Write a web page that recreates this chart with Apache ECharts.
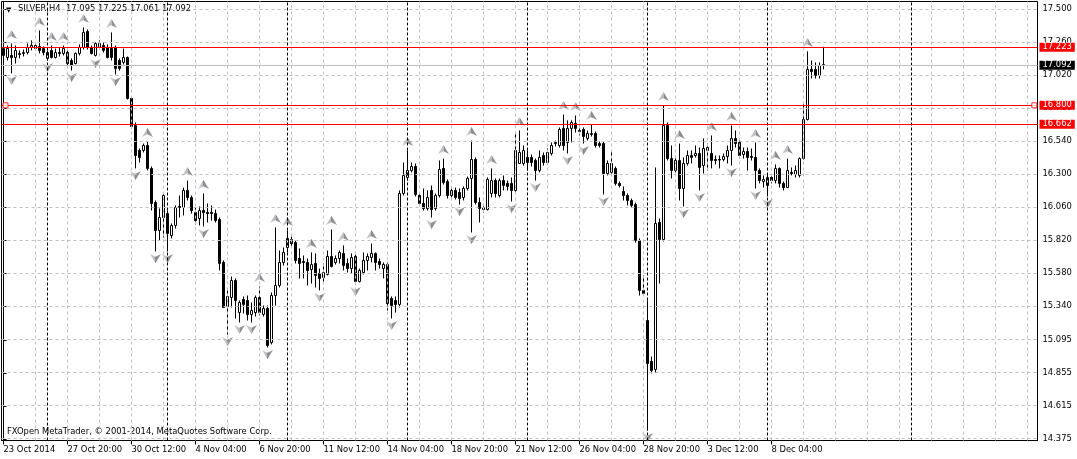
<!DOCTYPE html>
<html><head><meta charset="utf-8">
<script src="https://cdn.jsdelivr.net/npm/echarts@6/dist/echarts.min.js"></script>
<style>html,body{margin:0;padding:0;background:#fff}#c{width:1077px;height:459px}</style>
</head><body><div id="c"></div>
<script>
// ---------------- data ----------------
const symbolName = 'SILVER,H4';
const lastQuote = [17.095, 17.225, 17.061, 17.092]; // O H L C of last bar
const firstBarUTC = [2014, 9, 23, 4];               // 23 Oct 2014 04:00
const futureBars = 53;                              // empty bars to the right (chart shift)
// candles: [open, close, low, high]
const candles = [
[17.213,17.163,17.133,17.221],[17.148,17.213,17.126,17.235],[17.163,17.148,17.032,17.250],[17.148,17.199,17.104,17.235],
[17.177,17.170,17.141,17.199],[17.177,17.184,17.155,17.206],[17.184,17.221,17.170,17.250],[17.221,17.235,17.199,17.272],
[17.213,17.235,17.199,17.257],[17.228,17.199,17.177,17.344],[17.213,17.184,17.163,17.228],[17.141,17.184,17.126,17.199],
[17.199,17.148,17.141,17.235],[17.148,17.184,17.141,17.213],[17.184,17.177,17.155,17.221],[17.177,17.213,17.163,17.235],
[17.184,17.104,17.082,17.199],[17.126,17.090,17.053,17.141],[17.104,17.177,17.097,17.184],[17.177,17.221,17.163,17.243],
[17.221,17.330,17.206,17.366],[17.337,17.221,17.206,17.352],[17.221,17.177,17.170,17.235],[17.163,17.250,17.155,17.257],
[17.221,17.250,17.213,17.272],[17.235,17.199,17.184,17.257],[17.221,17.148,17.141,17.243],[17.213,17.148,17.126,17.330],
[17.221,17.068,17.024,17.235],[17.126,17.068,17.053,17.141],[17.112,17.148,17.097,17.213],[17.148,16.850,16.842,17.155],
[16.850,16.646,16.632,16.864],[16.653,16.435,16.341,16.675],[16.472,16.421,16.384,16.486],[16.472,16.508,16.457,16.522],
[16.508,16.341,16.326,16.537],[16.341,16.086,16.035,16.355],[16.093,15.890,15.737,16.108],[15.890,15.984,15.817,16.050],
[15.984,16.144,15.839,16.159],[16.013,15.868,15.737,16.035],[15.853,15.926,15.832,15.941],[15.926,16.057,15.904,16.072],
[16.064,16.057,15.984,16.144],[16.057,16.181,15.999,16.202],[16.181,16.130,16.108,16.253],[16.130,16.035,16.013,16.144],
[16.021,15.962,15.933,16.057],[15.977,16.035,15.926,16.064],[16.035,16.021,15.919,16.159],[16.021,16.013,15.948,16.086],
[16.021,16.013,15.962,16.072],[16.013,15.962,15.948,16.042],[15.970,15.650,15.599,15.984],[15.657,15.330,15.330,15.672],
[15.337,15.410,15.133,15.454],[15.402,15.526,15.330,15.555],[15.526,15.381,15.250,15.541],[15.293,15.366,15.221,15.381],
[15.388,15.352,15.286,15.410],[15.381,15.279,15.235,15.417],[15.279,15.308,15.221,15.366],[15.293,15.402,15.264,15.417],
[15.402,15.293,15.272,15.482],[15.279,15.323,15.264,15.344],[15.323,15.053,15.039,15.344],[15.075,15.417,15.061,15.439],
[15.417,15.490,15.344,15.912],[15.490,15.657,15.475,15.744],[15.657,15.730,15.635,15.766],[15.766,15.832,15.730,15.890],
[15.824,15.795,15.773,15.846],[15.802,15.672,15.650,15.817],[15.686,15.650,15.541,15.759],[15.664,15.657,15.541,15.708],
[15.657,15.599,15.490,15.686],[15.606,15.642,15.504,15.730],[15.650,15.563,15.475,15.723],[15.577,15.541,15.454,15.613],
[15.548,15.584,15.504,15.650],[15.570,15.701,15.563,15.744],[15.701,15.628,15.621,15.897],[15.657,15.686,15.642,15.708],
[15.686,15.730,15.650,15.744],[15.723,15.635,15.599,15.781],[15.650,15.613,15.584,15.686],[15.613,15.693,15.577,15.723],
[15.701,15.519,15.497,15.715],[15.519,15.599,15.512,15.613],[15.584,15.672,15.570,15.730],[15.672,15.701,15.599,15.723],
[15.693,15.723,15.657,15.795],[15.723,15.657,15.599,15.730],[15.664,15.642,15.613,15.686],[15.613,15.642,15.541,15.657],
[15.642,15.359,15.308,15.657],[15.395,15.344,15.250,15.410],[15.381,15.352,15.293,15.410],[15.352,16.159,15.330,16.181],
[16.159,16.290,16.144,16.384],[16.275,16.326,16.253,16.472],[16.326,16.355,16.312,16.384],[16.355,16.152,16.137,16.377],
[16.144,16.086,16.072,16.159],[16.086,16.050,16.035,16.195],[16.050,16.130,16.035,16.181],[16.181,16.042,15.984,16.217],
[16.050,16.144,16.035,16.159],[16.144,16.333,16.130,16.399],[16.341,16.239,16.224,16.413],[16.246,16.144,16.122,16.261],
[16.144,16.181,16.130,16.195],[16.181,16.130,16.115,16.202],[16.166,16.122,16.079,16.195],[16.130,16.195,16.108,16.210],
[16.195,16.268,16.181,16.282],[16.268,16.406,15.875,16.544],[16.406,16.093,16.079,16.421],[16.093,16.050,15.948,16.130],
[16.042,16.057,16.021,16.072],[16.042,16.261,16.035,16.275],[16.159,16.253,16.130,16.341],[16.253,16.159,16.130,16.268],
[16.144,16.253,16.130,16.268],[16.253,16.217,16.181,16.290],[16.232,16.210,16.181,16.253],[16.232,16.181,16.101,16.275],
[16.181,16.472,16.166,16.602],[16.377,16.457,16.377,16.617],[16.377,16.472,16.362,16.508],[16.421,16.384,16.326,16.472],
[16.421,16.384,16.355,16.442],[16.399,16.326,16.253,16.413],[16.326,16.421,16.312,16.472],[16.435,16.384,16.362,16.457],
[16.384,16.457,16.370,16.486],[16.450,16.508,16.435,16.530],[16.522,16.530,16.501,16.544],[16.508,16.624,16.493,16.639],
[16.632,16.508,16.472,16.733],[16.530,16.632,16.450,16.690],[16.632,16.675,16.530,16.690],[16.668,16.632,16.602,16.726],
[16.617,16.610,16.581,16.653],[16.624,16.573,16.522,16.639],[16.559,16.595,16.544,16.617],[16.588,16.595,16.573,16.661],
[16.595,16.508,16.493,16.610],[16.522,16.508,16.493,16.537],[16.522,16.304,16.152,16.537],[16.304,16.377,16.290,16.399],
[16.312,16.377,16.297,16.472],[16.341,16.232,16.217,16.355],[16.232,16.217,16.202,16.246],[16.173,16.144,16.108,16.210],
[16.144,16.108,16.072,16.159],[16.108,16.072,16.057,16.122],[16.079,15.817,15.802,16.093],[15.817,15.454,15.417,15.832],
[15.454,15.432,15.417,15.563],[15.235,14.922,14.435,15.381],[14.937,14.872,14.850,14.973],[14.879,15.941,14.857,16.348],
[15.948,15.824,15.504,15.977],[15.824,16.653,15.810,16.799],[16.653,16.413,16.399,16.675],[16.413,16.326,16.268,16.508],
[16.326,16.399,16.312,16.421],[16.399,16.195,16.108,16.522],[16.195,16.377,16.064,16.421],[16.377,16.435,16.362,16.472],
[16.435,16.421,16.377,16.472],[16.435,16.450,16.421,16.508],[16.450,16.348,16.181,16.493],[16.362,16.486,16.304,16.559],
[16.472,16.493,16.326,16.522],[16.450,16.399,16.341,16.581],[16.406,16.399,16.370,16.435],[16.406,16.402,16.341,16.435],
[16.406,16.428,16.392,16.450],[16.428,16.472,16.377,16.508],[16.472,16.559,16.362,16.653],[16.559,16.522,16.493,16.617],
[16.530,16.435,16.413,16.544],[16.442,16.464,16.413,16.493],[16.464,16.421,16.326,16.493],[16.428,16.421,16.399,16.486],
[16.421,16.326,16.195,16.530],[16.326,16.253,16.232,16.341],[16.246,16.261,16.202,16.290],[16.217,16.275,16.137,16.304],
[16.275,16.253,16.232,16.290],[16.253,16.341,16.232,16.370],[16.341,16.232,16.202,16.348],[16.232,16.202,16.181,16.246],
[16.202,16.326,16.202,16.413],[16.312,16.304,16.290,16.348],[16.297,16.326,16.275,16.362],[16.290,16.413,16.275,16.421],
[16.413,16.697,16.406,16.813],[16.697,17.061,16.690,17.192],[17.061,17.046,16.995,17.126],[17.061,17.017,16.995,17.112],
[17.017,17.090,16.995,17.112],[17.095,17.092,17.061,17.225]
];
const upFractals   = [2,9,12,15,20,27,36,46,50,64,68,71,77,82,85,92,101,110,117,122,129,140,143,147,165,169,177,182,188,193,196,201];
const downFractals = [2,11,17,23,28,33,38,41,50,56,59,62,66,79,88,97,107,114,117,127,133,141,145,150,161,170,174,182,188,191];
const yTicks = [17.500,17.260,17.020,16.780,16.540,16.300,16.060,15.820,15.580,15.340,15.095,14.855,14.615,14.375];
const redLevels = ['17.223', '16.800', '16.662'];
const bidLevel = '17.092';
const selectedLevel = 16.800;
const xLabelEvery = 16, xGridEvery = 8;
const copyright = 'FXOpen MetaTrader, \u00A9 2001-2014, MetaQuotes Software Corp.';

// ---------------- build ----------------
const FONT = 'DejaVu Sans';
const FS = 8.4;
const N = candles.length + futureBars;
const H4 = 4 * 3600 * 1000, DAY = 86400000;
const times = [];
let t = Date.UTC(firstBarUTC[0], firstBarUTC[1], firstBarUTC[2], firstBarUTC[3]);
for (let i = 0; i < N; i++) {
  if (i > 0) {
    t += H4;
    if (i < candles.length) { while ([0, 6].includes(new Date(t).getUTCDay())) t += H4; }
  }
  times.push(t);
}
const MON = ['Jan','Feb','Mar','Apr','May','Jun','Jul','Aug','Sep','Oct','Nov','Dec'];
const fmt = (tt, full) => { const d = new Date(tt);
  return full ? d.getUTCDate() + ' ' + MON[d.getUTCMonth()] + ' ' + d.getUTCFullYear()
              : d.getUTCDate() + ' ' + MON[d.getUTCMonth()] + ' ' + String(d.getUTCHours()).padStart(2,'0') + ':00'; };
const categories = times.map((tt, i) => fmt(tt, i === 0));
const weekOf = tt => Math.floor((tt - 3 * DAY) / (7 * DAY));
const separators = [];
for (let i = 1; i < N; i++) if (weekOf(times[i]) !== weekOf(times[i - 1])) separators.push(i);
const showLabel = i => i % xLabelEvery === 0 && i < candles.length;
const vGrid = [];
for (let i = xGridEvery; i < N; i += xGridEvery) vGrid.push(i);

const arrowUp = 'path://M5,0L10,10L5,7L0,10Z';
const arrowDn = 'path://M0,0L5,3L10,0L5,10Z';
const arrowFill = {type:'linear', x:0, y:0, x2:1, y2:0, colorStops:[
  {offset:0, color:'#c4c4ca'},{offset:0.5, color:'#a8a8ae'},{offset:0.5, color:'#6c6c72'},{offset:1, color:'#808086'}]};

const chart = echarts.init(document.getElementById('c'), null, {renderer:'canvas'});
chart.setOption({
  animation: false,
  backgroundColor: '#fff',
  textStyle: {fontFamily: FONT},
  grid: {left: 1.5, top: 1.5, right: 39.5, bottom: 18.5, show: true, borderColor: '#000', borderWidth: 1, backgroundColor: '#fff'},
  xAxis: [{
    type: 'category', data: categories, boundaryGap: true,
    axisLine: {lineStyle: {color: '#000', width: 1}},
    axisTick: {show: true, alignWithLabel: true, length: 4, interval: i => showLabel(i), lineStyle: {color: '#000'}},
    axisLabel: {interval: i => showLabel(i), align: 'left', margin: 5, color: '#000', fontFamily: FONT, fontSize: FS,
                hideOverlap: false, showMinLabel: true, showMaxLabel: true},
    splitLine: {show: false}
  }, {
    type: 'value', min: -0.5, max: N - 0.5, show: false
  }],
  yAxis: [{
    type: 'value', position: 'right', min: 14.3625, max: 17.555, scale: true,
    axisLine: {show: true, lineStyle: {color: '#000', width: 1}},
    axisTick: {show: true, length: 3, customValues: yTicks, lineStyle: {color: '#000'}},
    axisLabel: {customValues: yTicks, margin: 5, color: '#000', fontFamily: FONT, fontSize: FS,
                formatter: v => Number(v).toFixed(3)},
    splitLine: {show: false}
  }],
  graphic: [
    {type: 'text', left: 6, top: 7, style: {text: '\u25BC', font: '7px "DejaVu Sans"', fill: '#000'}},
    {type: 'text', left: 18, top: 5, style: {text: symbolName + '  ' + lastQuote.map(v => v.toFixed(3)).join(' '), font: FS + 'px "DejaVu Sans"', fill: '#000'}},
    {type: 'text', left: 7, top: 428, style: {text: copyright, font: FS + 'px "DejaVu Sans"', fill: '#000'}}
  ],
  series: [
    { // grid lines
      type: 'line', xAxisIndex: 1, yAxisIndex: 0, data: [], z: 1, silent: true,
      markLine: {silent: true, symbol: 'none', animation: false, label: {show: false},
        lineStyle: {color: '#c0c0c0', width: 1, type: [3, 3]},
        data: yTicks.map(v => ({yAxis: v})).concat(vGrid.map(i => ({xAxis: i})))}
    },
    { // week separators
      type: 'line', xAxisIndex: 1, yAxisIndex: 0, data: [], z: 1, silent: true,
      markLine: {silent: true, symbol: 'none', animation: false, label: {show: false},
        lineStyle: {color: '#000', width: 1, type: [3, 2]},
        data: separators.map(i => ({xAxis: i}))}
    },
    {
      type: 'candlestick', xAxisIndex: 0, yAxisIndex: 0, z: 3, barWidth: 2,
      data: candles,
      itemStyle: {color: '#fff', color0: '#000', borderColor: '#000', borderColor0: '#000', borderColorDoji: '#000', borderWidth: 1}
    },
    {
      type: 'scatter', xAxisIndex: 0, yAxisIndex: 0, z: 4, silent: true,
      symbol: arrowUp, symbolSize: [11, 9], symbolOffset: [0, -9],
      itemStyle: {color: arrowFill},
      data: upFractals.map(i => [i, candles[i][3]])
    },
    {
      type: 'scatter', xAxisIndex: 0, yAxisIndex: 0, z: 4, silent: true,
      symbol: arrowDn, symbolSize: [11, 9], symbolOffset: [0, 7],
      itemStyle: {color: arrowFill},
      data: downFractals.map(i => [i, candles[i][2]])
    },
    { // price levels
      type: 'line', xAxisIndex: 1, yAxisIndex: 0, data: [], z: 6, silent: true,
      markLine: {silent: true, symbol: 'none', animation: false, precision: 3,
        label: {show: true, position: 'end', distance: 2, color: '#fff', fontFamily: FONT, fontSize: FS,
                padding: [1, 3, 0, 3], formatter: '{b}'},
        data: [
          {name: bidLevel, yAxis: +bidLevel, lineStyle: {color: '#c0c0c0', width: 1, type: 'solid'}, label: {backgroundColor: '#000'}}
        ].concat(redLevels.map(v => ({name: v, yAxis: +v, lineStyle: {color: '#ff0000', width: 1, type: 'solid'}, label: {backgroundColor: '#ff0000'}})))
      }
    },
    { // selection handles of the 16.800 line
      type: 'scatter', xAxisIndex: 1, yAxisIndex: 0, z: 7, silent: true,
      symbol: 'rect', symbolSize: 5,
      itemStyle: {color: '#fff', borderColor: '#ff0000', borderWidth: 1},
      data: [[0.5, selectedLevel], [N - 1.3, selectedLevel]]
    }
  ]
});
</script>
</body></html>
